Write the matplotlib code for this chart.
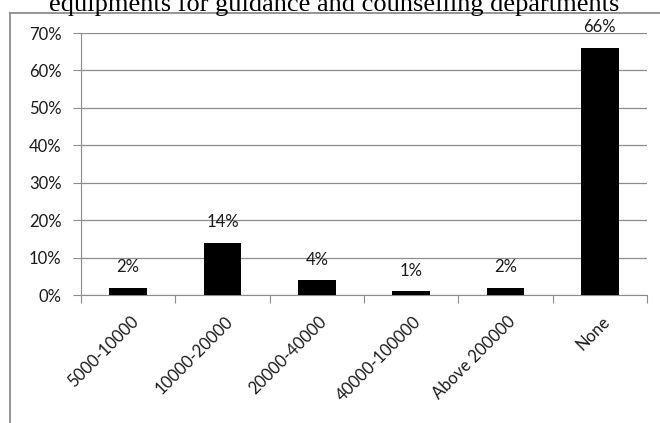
import matplotlib
matplotlib.use("Agg")
import matplotlib.pyplot as plt

categories = ["5000-10000", "10000-20000", "20000-40000", "40000-100000", "Above 200000", "None"]
values = [2, 14, 4, 1, 2, 66]
value_labels = ["2%", "14%", "4%", "1%", "2%", "66%"]
yticks = [0, 10, 20, 30, 40, 50, 60, 70]
ytick_labels = ["0%", "10%", "20%", "30%", "40%", "50%", "60%", "70%"]
title = "equipments for guidance and counselling departments"

W, H = 660, 423
fig = plt.figure(figsize=(W / 100, H / 100), dpi=100)
fig.patch.set_facecolor("white")

# chart frame (top and left edges visible)
fig.add_artist(plt.Line2D([10 / W, 1], [1 - 13 / H, 1 - 13 / H], color="#8c8c8c", lw=1.3))
fig.add_artist(plt.Line2D([10 / W, 10 / W], [0, 1 - 13 / H], color="#8c8c8c", lw=1.3))

fig.text(334 / W, 1 - 11 / H, title, ha="center", va="baseline", family="Liberation Serif",
         fontsize=19, color="black")

ax = fig.add_axes([81 / W, 1 - 295 / H, (647 - 81) / W, (295 - 33) / H])
x = list(range(len(categories)))
ax.bar(x, values, width=0.40, color="black", zorder=3)
ax.set_xlim(-0.5, len(categories) - 0.5)
ax.set_ylim(0, 70)

ax.set_yticks(yticks)
ax.set_yticklabels(ytick_labels, family="Lato", fontsize=12, color="#1a1a1a")
ax.yaxis.grid(True, color="#8c8c8c", lw=0.9, zorder=0)
ax.tick_params(axis="y", length=6, color="#8c8c8c", pad=8)

ax.set_xticks([i + 0.5 for i in range(-1, len(categories))])
ax.set_xticklabels([""] * (len(categories) + 1))
ax.tick_params(axis="x", length=6, color="#8c8c8c", direction="out")
for i, c in enumerate(categories):
    ax.text(i + 0.02, -5.0, c, rotation=45, ha="right", va="top", rotation_mode="anchor",
            family="Lato", fontsize=12, color="#1a1a1a")

for s in ["top", "right"]:
    ax.spines[s].set_visible(False)
for s in ["left", "bottom"]:
    ax.spines[s].set_color("#8c8c8c")

for i, (v, lab) in enumerate(zip(values, value_labels)):
    ax.annotate(lab, (i, v), xytext=(0, 9), textcoords="offset points", ha="center",
                va="bottom", family="Lato", fontsize=12, color="#1a1a1a")

fig.savefig("out.png", dpi=100)
